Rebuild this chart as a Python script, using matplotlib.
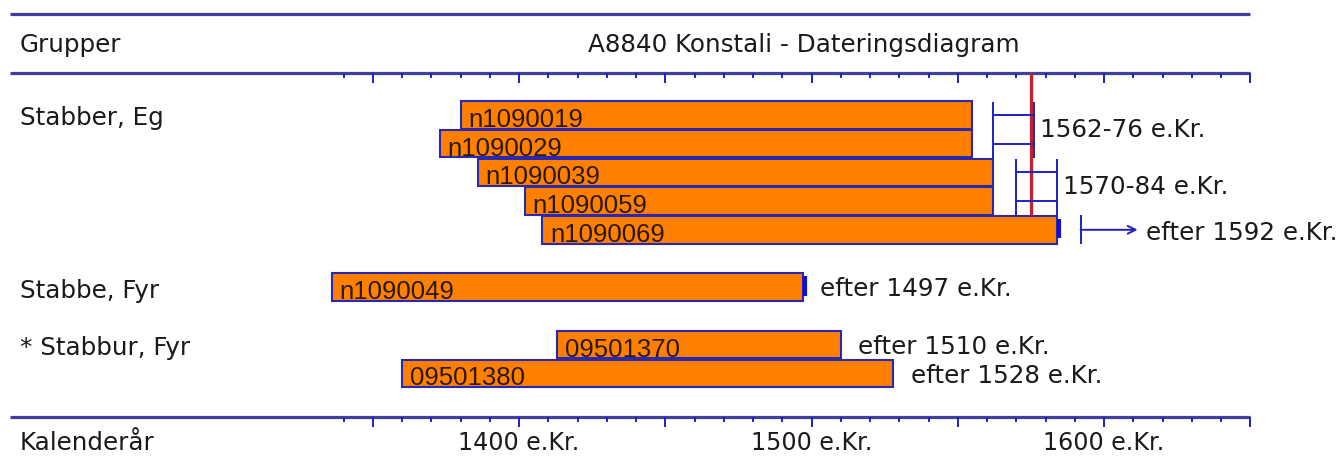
import matplotlib
matplotlib.use("Agg")
import matplotlib.pyplot as plt

# ---------------- data ----------------
title = "A8840 Konstali - Dateringsdiagram"
group_names = ["Stabber, Eg", "Stabbe, Fyr", "* Stabbur, Fyr"]
group_rows = [0, 6, 8]

sample_ids = ["n1090019", "n1090029", "n1090039", "n1090059", "n1090069",
              "n1090049", "09501370", "09501380"]
sample_rows = [0, 1, 2, 3, 4, 6, 8, 9]
start_years = [1380, 1373, 1386, 1402, 1408, 1336, 1413, 1360]
end_years = [1555, 1555, 1562, 1562, 1584, 1497, 1510, 1528]
edge_marks = [False, False, False, False, True, True, False, False]

# dating intervals (brackets) for the oak group
interval_from = [1562, 1570]
interval_to = [1576, 1584]
interval_rows = [(0, 1), (2, 3)]
interval_labels = ["1562-76 e.Kr.", "1570-84 e.Kr."]

open_date_year = 1592
open_date_row = 4
open_date_label = "efter 1592 e.Kr."

after_labels = ["efter 1497 e.Kr.", "efter 1510 e.Kr.", "efter 1528 e.Kr."]
after_years = [1497, 1510, 1528]
after_rows = [6, 8, 9]

red_line_year = 1575

axis_start, axis_end = 1340, 1650
tick_years = list(range(1340, 1651, 10))
major_tick_years = list(range(1350, 1651, 50))
label_years = [1400, 1500, 1600]
tick_labels = ["1400 e.Kr.", "1500 e.Kr.", "1600 e.Kr."]

# ---------------- styling / layout ----------------
W, H = 1344, 469
PX_PER_YEAR = 2.925
X0_YEAR = 1400 - 519 / PX_PER_YEAR
ROW_PX = 28.7
ROW0_PX = 115.0

def px_to_row(py):
    return (py - ROW0_PX) / ROW_PX

BAR_COLOR = "#ff8000"
BAR_EDGE = "#2828b0"
LINE_COLOR = "#4040a0"
BRACKET_COLOR = "#2020c0"
RED = "#c42030"
TEXT = "#1a1a1a"
FONT = "DejaVu Sans"
FS = 17.7
FS_TICK = 17.1

fig = plt.figure(figsize=(W / 100, H / 100), dpi=100)
ax = fig.add_axes([0, 0, 1, 1])
ax.set_xlim(X0_YEAR, X0_YEAR + W / PX_PER_YEAR)
ax.set_ylim(px_to_row(H), px_to_row(0))
ax.axis("off")

left_year = X0_YEAR + 10 / PX_PER_YEAR
text_left = X0_YEAR + 20 / PX_PER_YEAR

top_row = px_to_row(14)
head_row = px_to_row(73)
bot_row = px_to_row(417)
short_t = 4.5 / ROW_PX
long_t = 9.5 / ROW_PX

# horizontal frame lines
for r in (top_row, head_row, bot_row):
    ax.hlines(r, left_year, axis_end, color=LINE_COLOR, lw=2.3, zorder=3)

# ticks on header and bottom lines
for r in (head_row, bot_row):
    for ty in tick_years:
        ln = long_t if ty in major_tick_years else short_t
        ax.vlines(ty, r, r + ln, color=BRACKET_COLOR, lw=1.4, zorder=3)

# header texts
ax.text(text_left, px_to_row(45), "Grupper", fontsize=FS, family=FONT,
        color=TEXT, va="center", ha="left")
ax.text(1497.5, px_to_row(45), title, fontsize=FS, family=FONT,
        color=TEXT, va="center", ha="center")
ax.text(text_left, px_to_row(443), "Kalenderår", fontsize=FS, family=FONT,
        color=TEXT, va="center", ha="left")
for ly, lab in zip(label_years, tick_labels):
    ax.text(ly, px_to_row(443), lab, fontsize=FS_TICK, family=FONT,
            color=TEXT, va="center", ha="center")

# group labels
for name, r in zip(group_names, group_rows):
    ax.text(text_left, r + 0.12, name, fontsize=FS, family=FONT,
            color=TEXT, va="center", ha="left")

# red line
ax.vlines(red_line_year, head_row, 3.48, color=RED, lw=2.4, zorder=4)

# bars
for sid, r, s, e, mark in zip(sample_ids, sample_rows, start_years,
                              end_years, edge_marks):
    ax.barh(r, e - s, left=s, height=0.96, color=BAR_COLOR,
            edgecolor=BAR_EDGE, linewidth=1.5, zorder=2)
    ax.text(s + 2.6, r + 0.42, sid, fontsize=18.5, family="Liberation Sans",
            color="#2a1800", va="baseline", ha="left", zorder=5)
    if mark:
        ax.vlines(e + 0.7, r - 0.38, r + 0.3, color="#1010d0", lw=3.0,
                  zorder=5)

# dating brackets
for a, b, (r1, r2), lab in zip(interval_from, interval_to, interval_rows,
                               interval_labels):
    ax.vlines(a, r1 - 0.45, r2 + 0.5, color=BRACKET_COLOR, lw=1.4, zorder=5)
    ax.vlines(b, r1 - 0.45, r2 + 0.5, color=BRACKET_COLOR, lw=1.4, zorder=5)
    for rr in (r1, r2):
        ax.hlines(rr, a, b, color=BRACKET_COLOR, lw=1.4, zorder=5)
    ax.text(b + 2.0, (r1 + r2) / 2 + 0.02, lab, fontsize=FS, family=FONT,
            color=TEXT, va="center", ha="left")

# open-ended date
ax.vlines(open_date_year, open_date_row - 0.52, open_date_row + 0.5,
          color=BRACKET_COLOR, lw=1.4, zorder=5)
ax.annotate("", xy=(open_date_year + 19.5, open_date_row),
            xytext=(open_date_year, open_date_row),
            arrowprops=dict(arrowstyle="->", color=BRACKET_COLOR, lw=1.4,
                            shrinkA=0, shrinkB=0, mutation_scale=14))
ax.text(open_date_year + 22.5, open_date_row + 0.12, open_date_label,
        fontsize=FS, family=FONT, color=TEXT, va="center", ha="left")

# "efter" labels of other groups
for lab, y, r in zip(after_labels, after_years, after_rows):
    ax.text(y + 6.0, r + 0.08, lab, fontsize=FS, family=FONT,
            color=TEXT, va="center", ha="left")

fig.savefig("out.png", dpi=100)
